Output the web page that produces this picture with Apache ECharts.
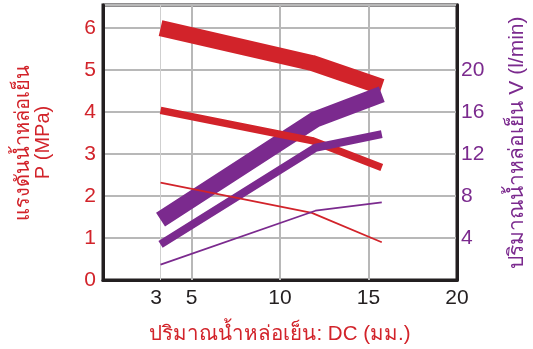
<!DOCTYPE html>
<html><head><meta charset="utf-8">
<script src="https://cdn.jsdelivr.net/npm/echarts@6/dist/echarts.min.js"></script>
<style>html,body{margin:0;padding:0;background:#fff}#c{width:533px;height:349px}</style>
</head><body><div id="c"></div>
<script>
// ---- data ----
const redX = [3.25, 11.8, 15.75];
const purpleX = [3.25, 12, 15.75];
const pressureThick = [6.0, 5.17, 4.6];
const pressureMedium = [4.04, 3.32, 2.68];
const pressureThin = [2.32, 1.6, 0.9];
const flowThick = [5.75, 15.3, 17.7];
const flowMedium = [3.4, 12.6, 13.9];
const flowThin = [1.47, 6.6, 7.4];
const xTickLabels = [3, 5, 10, 15, 20];
const xGridLines = [3.25, 5, 10, 15];
const leftTicks = [0, 1, 2, 3, 4, 5, 6];
const rightTicks = [4, 8, 12, 16, 20];
const xName = 'ปริมาณน้ำหล่อเย็น: DC (มม.)';
const leftName = 'แรงดันน้ำหล่อเย็น\nP (MPa)';
const rightName = 'ปริมาณน้ำหล่อเย็น V (l/min)';

const RED = '#d2232a', PURPLE = '#7b2a8e', FONT = '"Liberation Sans", Arial, "Noto Sans", sans-serif';
const pairs = (xs, ys) => xs.map((x, i) => [x, ys[i]]);
function line(name, xs, ys, color, width, yIdx, z) {
  return { name, type: 'line', xAxisIndex: 0, yAxisIndex: yIdx, data: pairs(xs, ys),
    symbol: 'none', smooth: false, z, animation: false,
    lineStyle: { color, width, cap: 'butt', join: 'round' } };
}
const series = [
  line('pThick', redX, pressureThick, RED, 16, 0, 2),
  line('fThick', purpleX, flowThick, PURPLE, 16.5, 1, 3),
  line('pMed', redX, pressureMedium, RED, 7.5, 0, 4),
  line('fMed', purpleX, flowMedium, PURPLE, 8, 1, 5),
  line('pThin', redX, pressureThin, RED, 1.8, 0, 6),
  line('fThin', purpleX, flowThin, PURPLE, 1.8, 1, 7)
];
series[0].markLine = { silent: true, symbol: 'none', animation: false, label: { show: false },
  data: xGridLines.map((v, i) => ({ xAxis: v, lineStyle: { color: i === 0 ? '#cfcfcf' : '#b8b8b8', width: i === 0 ? 1 : 2, type: 'solid' } })) };
series[0].markLine.z = 1;

const chart = echarts.init(document.getElementById('c'), null, { renderer: 'canvas' });
chart.setOption({
  animation: false,
  textStyle: { fontFamily: FONT },
  grid: { left: 103, right: 76, top: 5, bottom: 69, show: true, borderColor: '#231f20', borderWidth: 3, outerBoundsMode: 'none' },
  xAxis: { type: 'value', min: 0, max: 20, interval: 1,
    axisLine: { show: true, lineStyle: { color: '#231f20', width: 3 } }, axisTick: { show: false }, splitLine: { show: false },
    axisLabel: { customValues: xTickLabels, color: '#231f20', fontSize: 21, margin: 8, fontFamily: FONT },
    name: xName, nameLocation: 'middle', nameGap: 44,
    nameTextStyle: { color: RED, fontSize: 20.5, fontFamily: FONT } },
  yAxis: [
    { type: 'value', min: 0, max: 6.55, interval: 1, position: 'left',
      axisLine: { show: true, lineStyle: { color: '#231f20', width: 3 } }, axisTick: { show: false },
      splitLine: { show: true, lineStyle: { color: '#b8b8b8', width: 2 } },
      axisLabel: { customValues: leftTicks, color: RED, fontSize: 21, margin: 7, fontFamily: FONT },
      name: leftName, nameLocation: 'middle', nameRotate: 90, nameGap: 50,
      nameTextStyle: { color: RED, fontSize: 20, lineHeight: 20, fontFamily: FONT } },
    { type: 'value', min: 0, max: 26.2, interval: 4, position: 'right',
      axisLine: { show: true, lineStyle: { color: '#231f20', width: 3 } }, axisTick: { show: false },
      splitLine: { show: false },
      axisLabel: { customValues: rightTicks, color: PURPLE, fontSize: 21, margin: 4, fontFamily: FONT },
      name: rightName, nameLocation: 'middle', nameRotate: 90, nameGap: 50,
      nameTextStyle: { color: PURPLE, fontSize: 21, fontFamily: FONT } }
  ],
  series
});
</script></body></html>
